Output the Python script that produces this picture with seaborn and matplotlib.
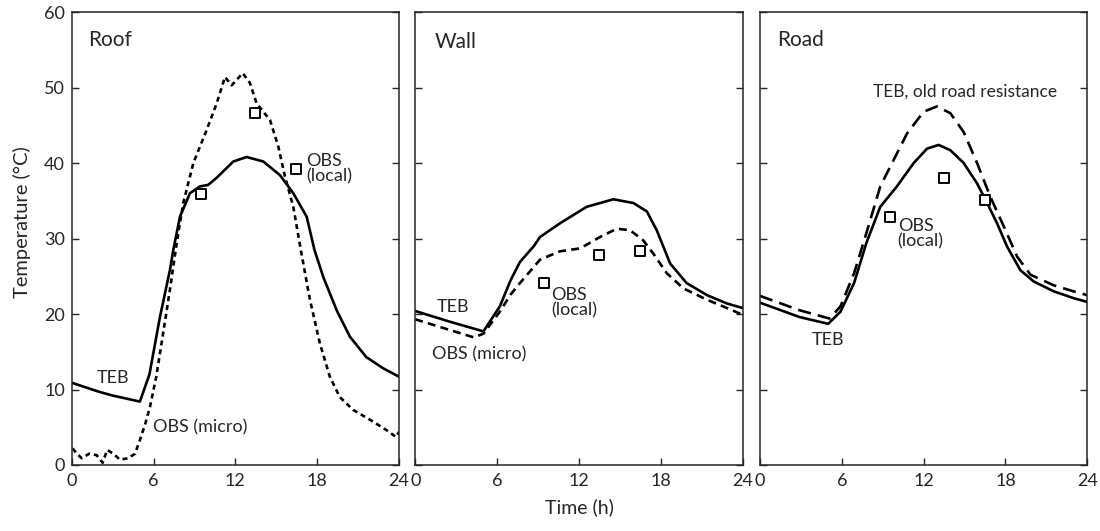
import numpy as np
import pandas as pd
import matplotlib
matplotlib.use('Agg')
import matplotlib.pyplot as plt
import seaborn as sns

sns.set_style('ticks')
plt.rcParams['font.family'] = ['Lato', 'DejaVu Sans']

# Roof
roof_teb_h = [0, 1, 2, 3, 4, 5.0, 5.7, 6.47, 7.2, 7.45, 7.94, 8.67, 9.4, 10.0, 10.6, 11.85, 12.83, 14.05, 15.27, 16.25, 17.23, 17.8, 18.45, 19.43, 20.4, 21.6, 22.85, 24.0]
roof_teb_t = [10.9, 10.3, 9.7, 9.2, 8.8, 8.4, 12.0, 19.6, 25.8, 28.5, 32.9, 36.0, 36.9, 37.1, 38.0, 40.2, 40.8, 40.2, 38.4, 36.0, 32.9, 28.5, 24.9, 20.5, 17.0, 14.3, 12.8, 11.7]
roof_obs_h = [0.07, 0.37, 0.73, 1.29, 1.83, 2.27, 2.6, 3.05, 3.54, 4.15, 4.64, 5.0, 5.4, 5.74, 6.2, 6.7, 7.2, 7.7, 8.18, 8.92, 9.9, 10.63, 11.24, 11.73, 12.54, 13.07, 13.56, 14.54, 15.15, 15.64, 16.25, 16.8, 17.47, 18.2, 18.93, 19.66, 20.64, 21.87, 23.1, 23.8, 24.0]
roof_obs_t = [2.2, 1.5, 0.9, 1.5, 1.3, 0.3, 2.0, 1.5, 0.7, 0.9, 1.5, 3.3, 5.5, 7.7, 11.7, 17.4, 23.2, 29.4, 34.7, 40.0, 44.4, 47.9, 51.4, 50.3, 51.9, 50.6, 47.9, 45.7, 42.2, 38.2, 34.2, 28.5, 21.9, 16.1, 11.7, 9.0, 7.3, 6.0, 4.6, 3.7, 4.4]
roof_loc_h = [9.48, 13.44, 16.42]
roof_loc_t = [35.9, 46.6, 39.2]

# Wall
wall_teb_h = [0, 2.5, 5.0, 6.2, 7.0, 7.68, 8.7, 9.15, 10.6, 12.57, 14.53, 16.0, 16.98, 17.71, 18.69, 19.9, 21.4, 22.85, 24.0]
wall_teb_t = [20.4, 19.0, 17.7, 21.0, 24.5, 26.9, 29.0, 30.2, 32.0, 34.2, 35.2, 34.7, 33.6, 31.1, 26.7, 24.1, 22.5, 21.4, 20.8]
wall_obs_h = [0, 2.5, 4.3, 5.0, 6.2, 7.0, 7.68, 9.15, 10.6, 12.1, 13.55, 14.78, 15.75, 16.7, 17.46, 18.45, 19.66, 21.38, 22.85, 24.0]
wall_obs_t = [19.3, 17.9, 16.9, 17.4, 20.3, 22.6, 24.1, 27.2, 28.3, 28.7, 30.2, 31.3, 31.1, 29.8, 28.0, 25.4, 23.4, 21.9, 20.8, 19.9]
wall_loc_h = [9.44, 13.48, 16.48]
wall_loc_t = [24.1, 27.8, 28.3]

# Road
road_teb_h = [0, 2.9, 5.0, 5.9, 6.9, 7.8, 8.82, 10.04, 11.27, 12.25, 13.1, 13.96, 14.94, 15.92, 16.66, 17.39, 18.13, 19.1, 20.08, 21.55, 23.0, 24.0]
road_teb_t = [21.5, 19.6, 18.7, 20.3, 24.1, 29.4, 34.2, 36.9, 40.0, 41.9, 42.4, 41.7, 40.0, 37.3, 34.7, 32.0, 28.9, 25.8, 24.3, 23.0, 22.1, 21.6]
road_old_h = [0, 2.9, 5.1, 5.9, 6.9, 7.8, 8.82, 9.8, 10.78, 12.0, 12.98, 13.96, 14.94, 15.92, 16.9, 17.88, 18.86, 19.84, 21.55, 23.0, 24.0]
road_old_t = [22.4, 20.5, 19.4, 21.0, 25.4, 30.7, 36.9, 40.4, 43.9, 46.8, 47.5, 46.6, 44.1, 40.0, 35.5, 31.6, 27.6, 25.2, 23.8, 23.0, 22.5]
road_loc_h = [9.5, 13.5, 16.5]
road_loc_t = [32.8, 38.0, 35.1]

fig = plt.figure(figsize=(11, 5.31), dpi=100)
lefts = [0.0652, 0.3775, 0.6909]
axes = [fig.add_axes([l, 0.1243, 0.2975, 0.853]) for l in lefts]

lw = 1.9
def sq(ax, h, t):
    sns.scatterplot(x=h, y=t, ax=ax, marker='s', s=45, facecolor='white',
                    edgecolor='black', linewidth=1.4, zorder=5)

def txt(ax, x, y, s, size=13):
    ax.text(x, y, s, fontsize=size, va='center', ha='left', linespacing=0.95)

ax = axes[0]
sns.lineplot(x=roof_teb_h, y=roof_teb_t, ax=ax, color='black', lw=lw, sort=False)
sns.lineplot(x=roof_obs_h, y=roof_obs_t, ax=ax, color='black', lw=lw, sort=False, linestyle=(0, (1.9, 1.5)))
sq(ax, roof_loc_h, roof_loc_t)
txt(ax, 1.2, 56.3, 'Roof', 15)
txt(ax, 1.86, 11.5, 'TEB')
txt(ax, 5.96, 5.0, 'OBS (micro)')
txt(ax, 17.2, 39.3, 'OBS\n(local)')

ax = axes[1]
sns.lineplot(x=wall_teb_h, y=wall_teb_t, ax=ax, color='black', lw=lw, sort=False)
sns.lineplot(x=wall_obs_h, y=wall_obs_t, ax=ax, color='black', lw=lw, sort=False, linestyle=(0, (3, 2)))
sq(ax, wall_loc_h, wall_loc_t)
txt(ax, 1.45, 56.0, 'Wall', 15)
txt(ax, 1.6, 20.9, 'TEB')
txt(ax, 1.23, 14.6, 'OBS (micro)')
txt(ax, 9.95, 21.5, 'OBS\n(local)')

ax = axes[2]
sns.lineplot(x=road_teb_h, y=road_teb_t, ax=ax, color='black', lw=lw, sort=False)
sns.lineplot(x=road_old_h, y=road_old_t, ax=ax, color='black', lw=lw, sort=False, linestyle=(0, (5, 2.7)))
sq(ax, road_loc_h, road_loc_t)
txt(ax, 1.25, 56.3, 'Road', 15)
txt(ax, 8.3, 49.4, 'TEB, old road resistance', 12.5)
txt(ax, 3.8, 16.6, 'TEB')
txt(ax, 10.1, 30.7, 'OBS\n(local)')

for i, ax in enumerate(axes):
    ax.set_xlim(0, 24)
    ax.set_ylim(0, 60)
    ax.set_xticks([0, 6, 12, 18, 24])
    ax.set_yticks(range(0, 61, 10))
    ax.tick_params(direction='in', length=5, width=1, labelsize=13, right=True,
                   left=True, labelleft=(i == 0))
    ax.tick_params(axis='x', pad=6)
    ax.tick_params(axis='y', pad=5)
    for s in ax.spines.values():
        s.set_visible(True)
        s.set_linewidth(1.1)
    ax.set_xlabel('')
    ax.set_ylabel('')

fig.text(0.02, 0.582, 'Temperature (°C)', fontsize=14.5, rotation=90, ha='center', va='center')
fig.text(0.527, 0.045, 'Time (h)', fontsize=14, ha='center', va='center')

fig.savefig('out.png', dpi=100)
